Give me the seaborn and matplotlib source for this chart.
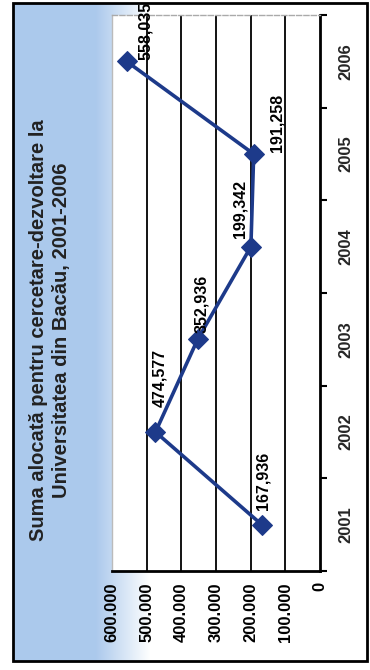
import numpy as np
import pandas as pd
import seaborn as sns
import matplotlib.pyplot as plt
from matplotlib.patches import Rectangle

# Data
years = [2001, 2002, 2003, 2004, 2005, 2006]
values = [167936, 474577, 352936, 199342, 191258, 558035]
value_labels = ["167,936", "474,577", "352,936", "199,342", "191,258", "558,035"]
tick_values = [0, 100000, 200000, 300000, 400000, 500000, 600000]
tick_labels = ["0", "100.000", "200.000", "300.000", "400.000", "500.000", "600.000"]
grid_values = [100000, 200000, 300000, 400000, 500000]
title = "Suma alocată pentru cercetare-dezvoltare la\nUniversitatea din Bacău, 2001-2006"

# label offsets in pixels (dx, dy) relative to each marker
label_offsets = [(1, 15), (4, 25), (4, 6), (-11, 9), (23, 2), (19, 1)]

df = pd.DataFrame({"an": years, "suma": values})

sns.set_theme(style="white")
plt.rcParams["font.family"] = ["Liberation Sans", "DejaVu Sans"]

W, H = 370, 670
fig = plt.figure(figsize=(W / 100, H / 100), dpi=100)
fig.patch.set_facecolor("white")

# background: blue fading to white, inside a black frame
bg = fig.add_axes([0, 0, 1, 1], zorder=0)
bg.set_xlim(0, W)
bg.set_ylim(H, 0)
bg.axis("off")
blue = np.array([171, 201, 236]) / 255
xs = np.arange(13, 367)
t = np.clip((xs - 95) / 55, 0, 1)[:, None]
grad = (blue * (1 - t) + np.ones(3) * t)[None, :, :]
bg.imshow(grad, extent=[13, 367, 661, 3], aspect="auto")
bg.add_patch(Rectangle((13, 3), 354, 658, fill=False, edgecolor="black", linewidth=2))

# main plot (chart is drawn rotated: values run right-to-left, years bottom-to-top)
ax = fig.add_axes([112 / W, 1 - 571 / H, (320 - 112) / W, (571 - 15) / H], zorder=2)
ax.set_facecolor("white")

for g in grid_values:
    ax.axvline(g, color="black", linewidth=1.3, zorder=1)

line_color = "#1d3a8a"
sns.lineplot(data=df, x="suma", y="an", sort=False, estimator=None, marker="D",
             markersize=10.5, color=line_color, markeredgecolor=line_color,
             linewidth=2.6, ax=ax, zorder=3)

for v, yr, lab, (dx, dy) in zip(values, years, value_labels, label_offsets):
    ax.annotate(lab, (v, yr), xytext=(dx, dy), textcoords="offset pixels",
                rotation=90, ha="center", va="bottom", fontsize=11.5,
                fontweight="bold", color="black", annotation_clip=False, zorder=4)

ax.set_xlim(600000, 0)
ax.set_ylim(2000.5, 2006.5)
ax.set_xlabel("")
ax.set_ylabel("")

ax.set_xticks(tick_values)
ax.set_xticklabels(tick_labels, rotation=90, fontsize=12, fontweight="bold")
ax.tick_params(axis="x", direction="inout", length=8, width=1.5, pad=4, colors="black")

ax.yaxis.tick_right()
ax.set_yticks(years)
ax.set_yticklabels([str(y) for y in years], rotation=90, va="center",
                   fontsize=12, fontweight="bold")
ax.set_yticks([y - 0.5 for y in years] + [2006.5], minor=True)
ax.tick_params(axis="y", which="major", length=0, pad=13)
ax.tick_params(axis="y", which="minor", right=True, direction="out", length=5,
               width=1.5, color="black")

ax.spines["bottom"].set_color("black")
ax.spines["bottom"].set_linewidth(2)
ax.spines["right"].set_color("black")
ax.spines["right"].set_linewidth(2)
ax.spines["top"].set_color("#aaaaaa")
ax.spines["top"].set_linestyle("--")
ax.spines["top"].set_linewidth(1)
ax.spines["left"].set_color("#bbbbbb")
ax.spines["left"].set_linewidth(1)

fig.text(50 / W, 1 - 330 / H, title, rotation=90, ha="center", va="center",
         fontsize=14.5, fontweight="bold", color="#222222", linespacing=1.3, zorder=5)

fig.savefig("out.png", dpi=100)
